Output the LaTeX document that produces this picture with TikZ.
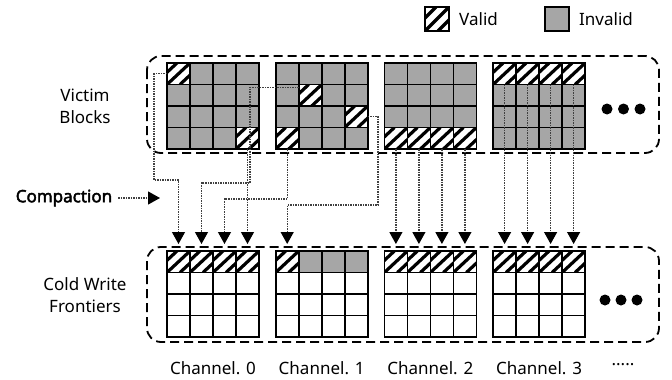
\documentclass[tikz,border=0pt]{standalone}
\usepackage{fontspec}
\setmainfont{Noto Sans}[AutoFakeBold=2.5]
\usetikzlibrary{positioning,calc,arrows.meta}
\definecolor{cellgray}{HTML}{A6A6A6}

\tikzset{
  cell/.style={draw,line width=1.6pt,minimum width=23pt,minimum height=21.5pt,inner sep=0pt,outer sep=0pt},
  invalid/.style={cell,fill=cellgray},
  empty/.style={cell,fill=white},
  valid/.style={cell,fill=white,path picture={
      \foreach \t in {-13,0,13}
        \draw[line width=3.2pt] ($(path picture bounding box.south west)+(\t pt,0pt)$) -- ($(path picture bounding box.north east)+(\t pt,0pt)$);}},
  group/.style={draw,line width=1.8pt,dash pattern=on 9pt off 5pt,rounded corners=14pt},
  conn/.style={dash pattern=on 1.5pt off 1pt,line width=1.2pt,black!75,-{Triangle[width=13pt,length=12pt,color=black]},shorten >=7pt},
  lbl/.style={align=center,inner sep=1pt,font=\fontsize{17}{22}\selectfont},
}

\begin{document}
\begin{tikzpicture}[x=1pt,y=-1pt]
  \useasboundingbox[fill=white] (0,0) rectangle (672,380);
  % dashed groups
  \draw[group] (147,56) rectangle (659,153);
  \draw[group] (147,247) rectangle (659,342);
  % victim blocks and cold write frontiers, one per channel
  \foreach \b in {0,...,3}
    \foreach \r in {0,...,3}
      \foreach \c in {0,...,3} {
        \node[invalid] (v\b\r\c) at ({178.5+108.7*\b+23*\c},{73.75+21.5*\r}) {};
        \node[empty] (f\b\r\c) at ({178.5+108.7*\b+23*\c},{261.75+21.5*\r}) {};
      }
  \foreach \n in {v000,v033,v111,v123,v130,v230,v231,v232,v233,v300,v301,v302,v303,
                  f000,f001,f002,f003,f100,f200,f201,f202,f203,f300,f301,f302,f303}
    \node[valid] at (\n) {};
  \foreach \n in {f101,f102,f103}
    \node[invalid] at (\n) {};
  % more blocks
  \foreach \k in {0,1,2} {
    \fill (607+16.5*\k,109) circle[radius=5.5pt];
    \fill (605+16*\k,300) circle[radius=5.5pt];
  }
  % compaction paths
  \draw[conn] (v000.west) -| (154,180) -| (f000.north);
  \draw[conn] ([yshift=8pt]v111.west) -| (250,183) -| (f001.north);
  \draw[conn] (v130.south) |- (f002.north |- 0,199) -- (f002.north);
  \draw[conn] (v033.south) -- (f003.north);
  \draw[conn] (v123.east) -| (378,205) -| (f100.north);
  \foreach \c in {0,...,3} {
    \draw[conn] (v23\c.south) -- (f20\c.north);
    \draw[conn] (v30\c.south) -- (f30\c.north);
  }
  % labels
  \node[lbl] (victim) at (85,106) {Victim\\Blocks};
  \node[lbl] (cold) at (85,295) {Cold Write\\Frontiers};
  \node[lbl,font=\bfseries\fontsize{17}{22}\selectfont] (cmp) at (64,198) {Compaction};
  \coordinate (cmpend) at (160,198);
  \draw[conn,shorten <=5pt,shorten >=0pt] (cmp.east) -- (cmpend);
  \foreach \b in {0,...,3}
    \node[lbl] (ch\b) at ({213+108.7*\b},368) {Channel. \b};
  \node[lbl] (chmore) at (623,365) {.....};
  % legend
  \node[valid,minimum width=24pt,minimum height=24pt] (lgvalid) at (437,19) {};
  \node[lbl,right=9pt of lgvalid] (lgvalidt) {Valid};
  \node[invalid,minimum width=24pt,minimum height=24pt] (lginvalid) at (557,19) {};
  \node[lbl,right=9pt of lginvalid] (lginvalidt) {Invalid};
\end{tikzpicture}
\end{document}
